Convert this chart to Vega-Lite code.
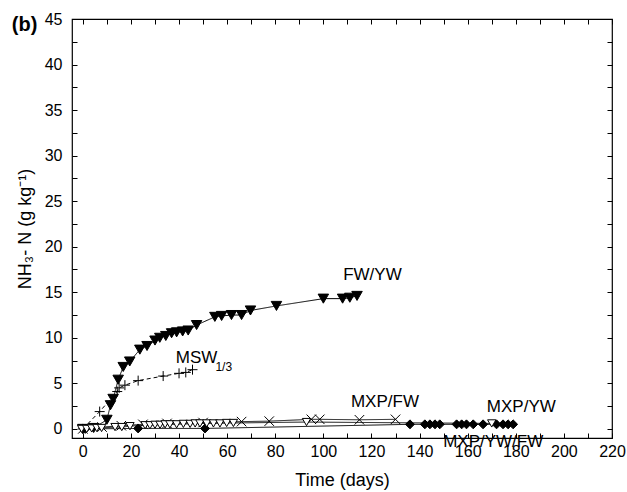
{
  "$schema": "https://vega.github.io/schema/vega-lite/v6.json",
  "width": 540,
  "height": 419,
  "autosize": {"type": "none"},
  "padding": {"left": 72, "top": 19, "right": 15, "bottom": 54},
  "background": "white",
  "config": {
    "font": "Liberation Sans",
    "view": {"stroke": "black", "strokeWidth": 1.2},
    "axis": {
      "domain": false,
      "grid": false,
      "tickColor": "black",
      "tickSize": -5,
      "tickWidth": 1,
      "labelColor": "black",
      "titleColor": "black",
      "labelFlush": false,
      "labelOverlap": false,
      "titleFontWeight": "normal",
      "labelFontSize": 16,
      "titleFontSize": 17
    }
  },
  "datasets": {
    "series": [
      {"s": "FW/YW", "day": 0, "v": 0},
      {"s": "FW/YW", "day": 4.5, "v": 0.1},
      {"s": "FW/YW", "day": 10, "v": 1.0},
      {"s": "FW/YW", "day": 11.5, "v": 2.6},
      {"s": "FW/YW", "day": 12.6, "v": 3.3},
      {"s": "FW/YW", "day": 14.7, "v": 5.4},
      {"s": "FW/YW", "day": 16.8, "v": 6.8},
      {"s": "FW/YW", "day": 19.5, "v": 7.4},
      {"s": "FW/YW", "day": 23.7, "v": 8.7},
      {"s": "FW/YW", "day": 26.7, "v": 9.1},
      {"s": "FW/YW", "day": 30, "v": 9.7},
      {"s": "FW/YW", "day": 32, "v": 10.0},
      {"s": "FW/YW", "day": 34.5, "v": 10.2},
      {"s": "FW/YW", "day": 36.9, "v": 10.5},
      {"s": "FW/YW", "day": 39, "v": 10.6},
      {"s": "FW/YW", "day": 41.5, "v": 10.7},
      {"s": "FW/YW", "day": 43.8, "v": 10.8},
      {"s": "FW/YW", "day": 47.3, "v": 11.4},
      {"s": "FW/YW", "day": 54.9, "v": 12.3},
      {"s": "FW/YW", "day": 57.7, "v": 12.4},
      {"s": "FW/YW", "day": 61.8, "v": 12.5},
      {"s": "FW/YW", "day": 66, "v": 12.5},
      {"s": "FW/YW", "day": 69.7, "v": 13.0},
      {"s": "FW/YW", "day": 80.5, "v": 13.5},
      {"s": "FW/YW", "day": 100, "v": 14.3},
      {"s": "FW/YW", "day": 108, "v": 14.3},
      {"s": "FW/YW", "day": 111, "v": 14.4},
      {"s": "FW/YW", "day": 114, "v": 14.6},
      {"s": "MSW", "day": 0, "v": 0},
      {"s": "MSW", "day": 7, "v": 1.9},
      {"s": "MSW", "day": 14.3, "v": 4.1},
      {"s": "MSW", "day": 15.1, "v": 4.5},
      {"s": "MSW", "day": 17.5, "v": 4.8},
      {"s": "MSW", "day": 23, "v": 5.3},
      {"s": "MSW", "day": 33.4, "v": 5.8},
      {"s": "MSW", "day": 40, "v": 6.1},
      {"s": "MSW", "day": 42.8, "v": 6.2},
      {"s": "MSW", "day": 45.6, "v": 6.5},
      {"s": "MXP/FW", "day": 0, "v": 0},
      {"s": "MXP/FW", "day": 8, "v": 0.2},
      {"s": "MXP/FW", "day": 16, "v": 0.35},
      {"s": "MXP/FW", "day": 25, "v": 0.5},
      {"s": "MXP/FW", "day": 35, "v": 0.6},
      {"s": "MXP/FW", "day": 50, "v": 0.7},
      {"s": "MXP/FW", "day": 66, "v": 0.8},
      {"s": "MXP/FW", "day": 77.5, "v": 0.85},
      {"s": "MXP/FW", "day": 95, "v": 1.05},
      {"s": "MXP/FW", "day": 98.5, "v": 1.05},
      {"s": "MXP/FW", "day": 115, "v": 1.0},
      {"s": "MXP/FW", "day": 130, "v": 1.05},
      {"s": "MXP/YW", "day": 1, "v": 0},
      {"s": "MXP/YW", "day": 23, "v": 0.05},
      {"s": "MXP/YW", "day": 50.8, "v": 0.05},
      {"s": "MXP/YW", "day": 136, "v": 0.5},
      {"s": "MXP/YW", "day": 142.2, "v": 0.5},
      {"s": "MXP/YW", "day": 144.3, "v": 0.5},
      {"s": "MXP/YW", "day": 146.4, "v": 0.5},
      {"s": "MXP/YW", "day": 148.4, "v": 0.5},
      {"s": "MXP/YW", "day": 155.4, "v": 0.5},
      {"s": "MXP/YW", "day": 157.5, "v": 0.5},
      {"s": "MXP/YW", "day": 159.5, "v": 0.5},
      {"s": "MXP/YW", "day": 162.3, "v": 0.5},
      {"s": "MXP/YW", "day": 166.4, "v": 0.5},
      {"s": "MXP/YW", "day": 172, "v": 0.5},
      {"s": "MXP/YW", "day": 174.7, "v": 0.5},
      {"s": "MXP/YW", "day": 176.8, "v": 0.5},
      {"s": "MXP/YW", "day": 178.9, "v": 0.5},
      {"s": "MXP/YW/FW", "day": -0.5, "v": 0},
      {"s": "MXP/YW/FW", "day": 1.6, "v": 0},
      {"s": "MXP/YW/FW", "day": 3.7, "v": 0.05},
      {"s": "MXP/YW/FW", "day": 5.8, "v": 0.1},
      {"s": "MXP/YW/FW", "day": 7.8, "v": 0.1},
      {"s": "MXP/YW/FW", "day": 13.4, "v": 0.2},
      {"s": "MXP/YW/FW", "day": 16.2, "v": 0.2},
      {"s": "MXP/YW/FW", "day": 19.6, "v": 0.3},
      {"s": "MXP/YW/FW", "day": 25.9, "v": 0.4},
      {"s": "MXP/YW/FW", "day": 27.9, "v": 0.4},
      {"s": "MXP/YW/FW", "day": 30, "v": 0.45},
      {"s": "MXP/YW/FW", "day": 32.1, "v": 0.45},
      {"s": "MXP/YW/FW", "day": 34.2, "v": 0.5},
      {"s": "MXP/YW/FW", "day": 36.2, "v": 0.5},
      {"s": "MXP/YW/FW", "day": 39, "v": 0.5},
      {"s": "MXP/YW/FW", "day": 41.8, "v": 0.55},
      {"s": "MXP/YW/FW", "day": 44.6, "v": 0.55},
      {"s": "MXP/YW/FW", "day": 46.7, "v": 0.6},
      {"s": "MXP/YW/FW", "day": 48.7, "v": 0.6},
      {"s": "MXP/YW/FW", "day": 51.5, "v": 0.6},
      {"s": "MXP/YW/FW", "day": 54.3, "v": 0.6},
      {"s": "MXP/YW/FW", "day": 57, "v": 0.6},
      {"s": "MXP/YW/FW", "day": 59.8, "v": 0.65},
      {"s": "MXP/YW/FW", "day": 62.6, "v": 0.65},
      {"s": "MXP/YW/FW", "day": 93, "v": 0.75},
      {"s": "MXP/YW/FW", "day": 170, "v": 0.6}
    ]
  },
  "resolve": {"axis": {"x": "independent", "y": "independent"}},
  "layer": [
    {
      "data": {"name": "series"},
      "mark": {"type": "line", "strokeWidth": 1, "color": "black"},
      "encoding": {
        "x": {
          "field": "day", "type": "quantitative",
          "scale": {"domain": [-4.5, 220], "nice": false, "zero": false},
          "axis": {
            "orient": "bottom",
            "values": [0, 10, 20, 30, 40, 50, 60, 70, 80, 90, 100, 110, 120, 130, 140, 150, 160, 170, 180, 190, 200, 210, 220],
            "labelExpr": "datum.value % 20 === 0 ? datum.label : ''",
            "labelPadding": 10,
            "title": "Time (days)",
            "titleFontWeight": "normal",
            "titleFontSize": 18,
            "titlePadding": 12
          }
        },
        "y": {
          "field": "v", "type": "quantitative",
          "scale": {"domain": [-1, 45], "nice": false, "zero": false},
          "axis": {
            "orient": "left",
            "values": [0, 2.5, 5, 7.5, 10, 12.5, 15, 17.5, 20, 22.5, 25, 27.5, 30, 32.5, 35, 37.5, 40, 42.5, 45],
            "labelExpr": "datum.value % 5 === 0 ? datum.label : ''",
            "labelPadding": 15,
            "title": "NH₃- N (g kg⁻¹)",
            "titleFontWeight": "normal",
            "titleFontSize": 18,
            "titlePadding": 10
          }
        },
        "detail": {"field": "s", "type": "nominal"},
        "strokeDash": {
          "field": "s", "type": "nominal",
          "scale": {"domain": ["FW/YW", "MSW", "MXP/FW", "MXP/YW", "MXP/YW/FW"], "range": [[1, 0], [4, 3], [1, 0], [1, 0], [1, 0]]},
          "legend": null
        }
      }
    },
    {
      "data": {"name": "series"},
      "mark": {"type": "point", "opacity": 1, "strokeWidth": 1},
      "encoding": {
        "x": {
          "field": "day", "type": "quantitative",
          "scale": {"domain": [-4.5, 220], "nice": false, "zero": false},
          "axis": {
            "orient": "top",
            "values": [0, 10, 20, 30, 40, 50, 60, 70, 80, 90, 100, 110, 120, 130, 140, 150, 160, 170, 180, 190, 200, 210, 220],
            "labels": false,
            "title": null
          }
        },
        "y": {
          "field": "v", "type": "quantitative",
          "scale": {"domain": [-1, 45], "nice": false, "zero": false},
          "axis": {
            "orient": "right",
            "values": [0, 2.5, 5, 7.5, 10, 12.5, 15, 17.5, 20, 22.5, 25, 27.5, 30, 32.5, 35, 37.5, 40, 42.5, 45],
            "labels": false,
            "title": null
          }
        },
        "shape": {
          "field": "s", "type": "nominal",
          "scale": {"domain": ["FW/YW", "MSW", "MXP/FW", "MXP/YW", "MXP/YW/FW"], "range": ["triangle-down", "M-1,0H1M0,-1V1", "M-1,-1L1,1M-1,1L1,-1", "diamond", "triangle-down"]},
          "legend": null
        },
        "fill": {
          "field": "s", "type": "nominal",
          "scale": {"domain": ["FW/YW", "MSW", "MXP/FW", "MXP/YW", "MXP/YW/FW"], "range": ["black", "transparent", "transparent", "black", "white"]},
          "legend": null
        },
        "size": {
          "field": "s", "type": "nominal",
          "scale": {"domain": ["FW/YW", "MSW", "MXP/FW", "MXP/YW", "MXP/YW/FW"], "range": [110, 70, 70, 75, 80]},
          "legend": null
        },
        "stroke": {"value": "black"}
      }
    },
    {
      "data": {"values": [
        {"t": "FW/YW", "x": 120.4, "y": 16.9},
        {"t": "MSW", "x": 47.3, "y": 7.75},
        {"t": "MXP/FW", "x": 125.6, "y": 3.0},
        {"t": "MXP/YW", "x": 182.3, "y": 2.37},
        {"t": "MXP/YW/FW", "x": 170.6, "y": -1.4}
      ]},
      "mark": {"type": "text", "fontSize": 17, "align": "center", "baseline": "middle", "color": "black"},
      "encoding": {
        "x": {"field": "x", "type": "quantitative", "scale": {"domain": [-4.5, 220], "nice": false, "zero": false}, "axis": null},
        "y": {"field": "y", "type": "quantitative", "scale": {"domain": [-1, 45], "nice": false, "zero": false}, "axis": null},
        "text": {"field": "t"}
      }
    },
    {
      "data": {"values": [{"t": "1/3", "x": 58.6, "y": 6.74}]},
      "mark": {"type": "text", "fontSize": 12, "align": "center", "baseline": "middle", "color": "black"},
      "encoding": {
        "x": {"field": "x", "type": "quantitative", "scale": {"domain": [-4.5, 220], "nice": false, "zero": false}, "axis": null},
        "y": {"field": "y", "type": "quantitative", "scale": {"domain": [-1, 45], "nice": false, "zero": false}, "axis": null},
        "text": {"field": "t"}
      }
    },
    {
      "data": {"values": [{"t": "(b)", "x": -24.2, "y": 44.3}]},
      "mark": {"type": "text", "fontSize": 20, "fontWeight": "bold", "align": "center", "baseline": "middle", "color": "black"},
      "encoding": {
        "x": {"field": "x", "type": "quantitative", "scale": {"domain": [-4.5, 220], "nice": false, "zero": false}, "axis": null},
        "y": {"field": "y", "type": "quantitative", "scale": {"domain": [-1, 45], "nice": false, "zero": false}, "axis": null},
        "text": {"field": "t"}
      }
    }
  ]
}
